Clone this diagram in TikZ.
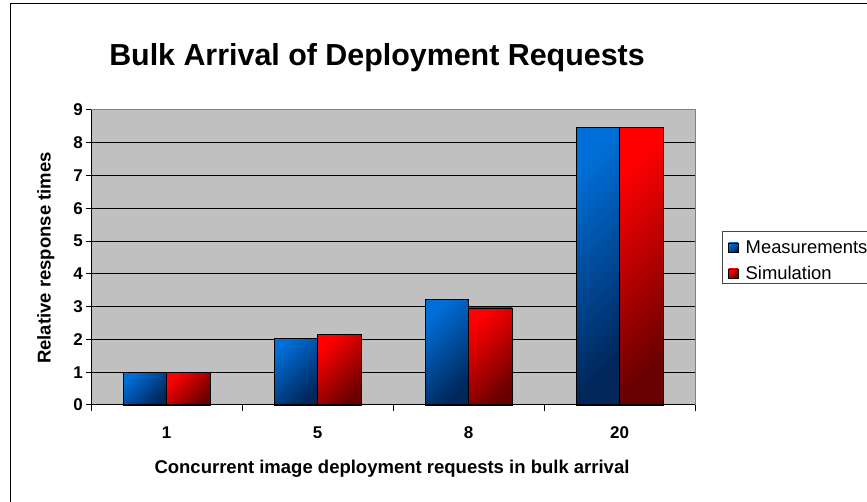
\documentclass[tikz,border=0pt]{standalone}
\usepackage{fontspec}
\setmainfont{Liberation Sans}
\definecolor{plotgray}{RGB}{192,192,192}
\definecolor{blueL}{RGB}{0,110,215}
\definecolor{blueD}{RGB}{0,38,90}
\definecolor{redL}{RGB}{255,0,0}
\definecolor{redD}{RGB}{105,0,0}
\definecolor{framegray}{RGB}{128,128,128}
\definecolor{legframe}{RGB}{70,70,70}

\begin{document}
\begin{tikzpicture}[x=1pt,y=1pt,
  measbar/.style={draw=black, line width=0.8pt, top color=blueL, bottom color=blueD, shading angle=45},
  simbar/.style={draw=black, line width=0.8pt, top color=redL, bottom color=redD, shading angle=45},
  ticklab/.style={font=\fontsize{17}{20}\selectfont\bfseries, inner sep=0pt},
  axtitle/.style={font=\fontsize{18.5}{22}\selectfont\bfseries, inner sep=0pt},
  legtext/.style={font=\fontsize{18.4}{22}\selectfont, inner sep=0pt, anchor=base west}]
\useasboundingbox (0,0) rectangle (867,502);
\clip (0,0) rectangle (867,502);
\fill[white] (0,0) rectangle (867,502);
% chart frame (runs past the right and bottom edges)
\draw[line width=1pt] (10.5,498.5) rectangle (900,-20);

% title
\node[font=\fontsize{30.4}{36}\selectfont\bfseries, inner sep=0pt, anchor=base] (title) at (377,436) {Bulk Arrival of Deployment Requests};

% plot area: value 0 at y=97, one unit = 32.78
\begin{scope}[shift={(91,97)}, y=32.78pt]
  \fill[plotgray] (0,0) rectangle (604,9);
  \foreach \v in {1,...,8} \draw[line width=1pt] (0,\v) -- (604,\v);
  \draw[framegray, line width=1pt] (0,9) -- (604,9) -- (604,0);
  % bars
  \foreach \c/\m/\s in {75.5/1/1, 226.5/2.02/2.16, 377.5/3.21/2.96, 528.5/8.47/8.47}{
    \path[measbar] (\c-43.5,0) rectangle (\c,\m);
    \path[simbar] (\c,0) rectangle (\c+43.5,\s);
  }
  % axes and ticks
  \draw[line width=1pt] (0,9) -- (0,0) -- (604,0);
  \foreach \v in {0,...,9}{
    \draw[line width=1pt] (0,\v) -- ++(-5pt,0pt);
    \node[ticklab, anchor=east] (ylab\v) at ([xshift=-8pt]0,\v) {\v};
  }
  \foreach \t in {0,151,302,453,604} \draw[line width=1pt] (\t,0) -- ++(0pt,-6pt);
\end{scope}

% category labels
\foreach \x/\l in {166.5/1, 317.5/5, 468.5/8, 619.5/20}
  \node[ticklab, anchor=base] (xlab\l) at (\x,63.3) {\l};

% axis titles
\node[axtitle, rotate=90, anchor=base] (ytitle) at (50.5,244) {Relative response times};
\node[axtitle, anchor=base] (xtitle) at (392,28) {Concurrent image deployment requests in bulk arrival};

% legend
\draw[legframe, line width=1pt, fill=white] (722.5,270.5) rectangle (900,218);
\path[measbar] (728.5,249.5) rectangle (738,259);
\path[simbar] (728.5,223.5) rectangle (738,233);
\node[legtext] (legm) at (745.5,248.5) {Measurements};
\node[legtext] (legs) at (745.5,222.5) {Simulation};
\end{tikzpicture}
\end{document}
